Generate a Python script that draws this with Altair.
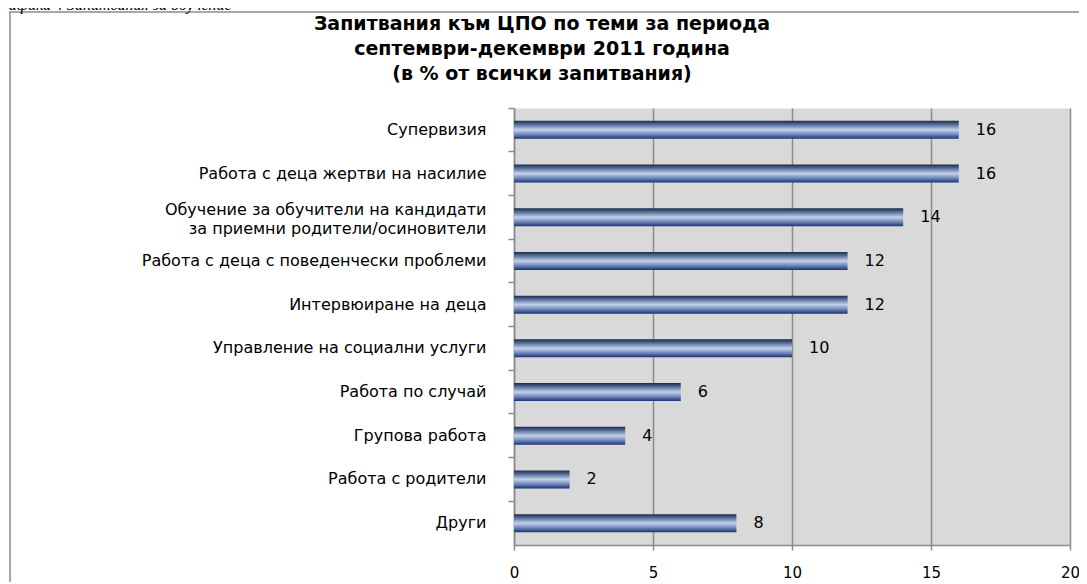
import altair as alt
import pandas as pd

categories = [
    "Супервизия",
    "Работа с деца жертви на насилие",
    "Обучение за обучители на кандидати\nза приемни родители/осиновители",
    "Работа с деца с поведенчески  проблеми",
    "Интервюиране на деца",
    "Управление на социални услуги",
    "Работа по случай",
    "Групова работа",
    "Работа с родители",
    "Други",
]
values = [16, 16, 14, 12, 12, 10, 6, 4, 2, 8]
x_ticks = [0, 5, 10, 15, 20]
title_lines = [
    "Запитвания към ЦПО по теми за периода",
    "септември-декември 2011 година",
    "(в % от всички запитвания)",
]
caption = "Графика 4 Запитвания за обучение"

df = pd.DataFrame({"topic": categories, "value": values})

GREY = "#8c8c8c"

gradient = alt.Gradient(
    gradient="linear", x1=0, x2=0, y1=0, y2=1,
    stops=[
        alt.GradientStop(color="#1b2a48", offset=0),
        alt.GradientStop(color="#5a729c", offset=0.22),
        alt.GradientStop(color="#c3d1ec", offset=0.5),
        alt.GradientStop(color="#6680b4", offset=0.78),
        alt.GradientStop(color="#183272", offset=1),
    ],
)

y_enc = alt.Y(
    "topic:N",
    sort=categories,
    scale=alt.Scale(paddingInner=0, paddingOuter=0),
    axis=alt.Axis(
        title=None,
        bandPosition=0,
        labelExpr="split(datum.label, '\\n')",
        labelFont="DejaVu Sans",
        labelFontSize=16,
        labelColor="black",
        labelLimit=600,
        labelLineHeight=19,
        labelPadding=22,
        labelOffset={"condition": {"test": "indexof(datum.label, '\\n') >= 0", "value": -7}, "value": 0},
        tickSize=6,
        tickColor=GREY,
        tickWidth=1.5,
        domainColor=GREY,
        domainWidth=1.5,
        grid=False,
    ),
)

x_enc = alt.X(
    "value:Q",
    scale=alt.Scale(domain=[0, 20], nice=False),
    axis=alt.Axis(
        title=None,
        values=x_ticks,
        grid=True,
        gridColor=GREY,
        gridWidth=1.5,
        domainColor=GREY,
        domainWidth=1.5,
        tickColor=GREY,
        tickWidth=1.5,
        tickSize=5,
        labelPadding=15,
        labelFont="DejaVu Sans",
        labelFontSize=15,
        labelColor="black",
        labelFlush=False,
        labelOverlap=False,
    ),
)

base = alt.Chart(df)

bars = base.mark_bar(size=18, color=gradient).encode(y=y_enc, x=x_enc)

labels = base.mark_text(
    align="left", baseline="middle", dx=17, fontSize=16, font="DejaVu Sans", color="black"
).encode(y=alt.Y("topic:N", sort=categories), x="value:Q", text="value:Q")

one = alt.Data(values=[{"k": 1}])

frame = alt.Chart(one).mark_rect(fillOpacity=0, stroke=GREY, strokeWidth=1.5).encode(
    x=alt.value(-504), x2=alt.value(700), y=alt.value(-96), y2=alt.value(600)
)

cap = alt.Chart(one).mark_text(
    text=caption, font="Liberation Serif", fontStyle="italic", fontSize=16,
    align="left", baseline="alphabetic", color="black"
).encode(x=alt.value(-522), y=alt.value(-98))

title = alt.Chart(one).mark_text(
    text=title_lines, font="DejaVu Sans", fontSize=19, fontWeight="bold",
    align="center", baseline="middle", lineHeight=25, color="black"
).encode(x=alt.value(28), y=alt.value(-84))

chart = (
    alt.layer(frame, bars, labels, title, cap)
    .properties(
        width=556,
        height=437,
        padding={"left": 506, "top": 100, "right": 9, "bottom": 37},
        autosize=alt.AutoSizeParams(type="none"),
        background="white",
    )
    .configure_view(fill="#d9d9d9", stroke="transparent")
)

chart.save("out.html", embed_options={"renderer": "svg", "actions": False})
